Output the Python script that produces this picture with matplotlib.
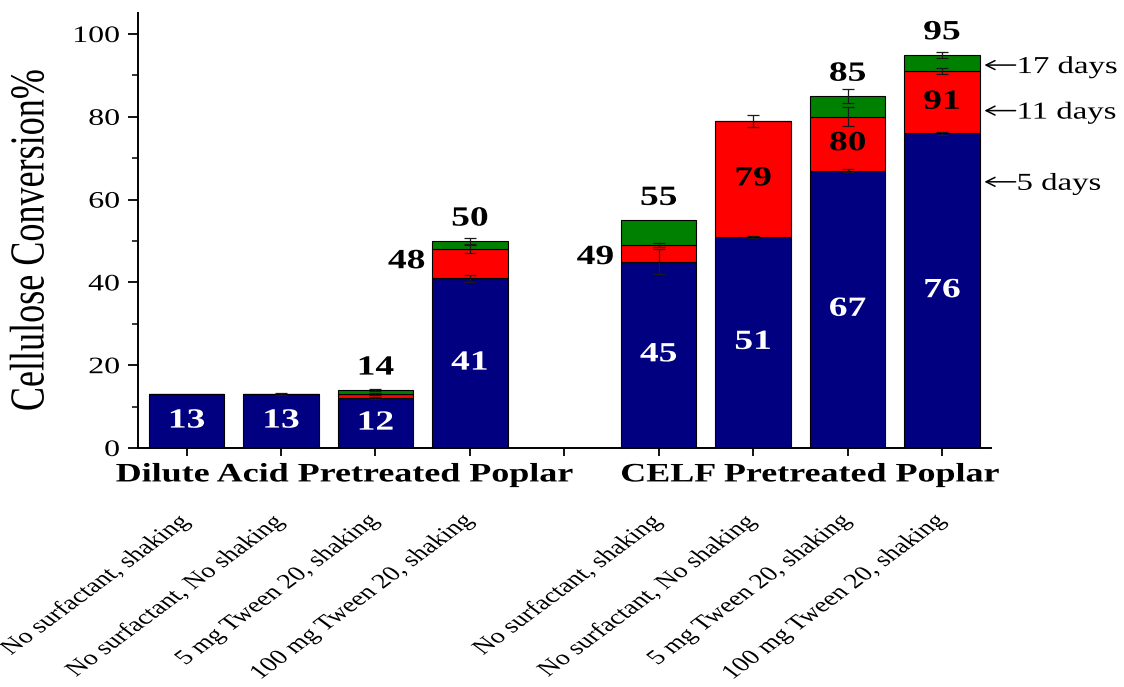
import matplotlib
matplotlib.use("Agg")
import numpy as np
import matplotlib.pyplot as plt
from matplotlib.patheffects import AbstractPathEffect
from matplotlib.transforms import Affine2D, blended_transform_factory

plt.rcParams['font.family'] = ['Liberation Serif', 'DejaVu Serif']

# ---- data -------------------------------------------------------------
conditions = ["No surfactant, shaking", "No surfactant, No shaking",
              "5 mg Tween 20, shaking", "100 mg Tween 20, shaking",
              "No surfactant, shaking", "No surfactant, No shaking",
              "5 mg Tween 20, shaking", "100 mg Tween 20, shaking"]
groups = ["Dilute Acid Pretreated Poplar", "CELF Pretreated Poplar"]
day_labels = ["5 days", "11 days", "17 days"]

# cumulative cellulose conversion (%) after each incubation time
day5 = [13, 13, 12, 41, 45, 51, 67, 76]
day11 = [13, 13, 13, 48, 49, 79, 80, 91]
day17 = [13, 13, 14, 50, 55, 79, 85, 95]
# standard deviations at each time point
err5 = [0.0, 0.3, 0.2, 0.8, 3.0, 0.2, 0.4, 0.4]
err11 = [0.0, 0.0, 0.2, 1.0, 0.4, 1.5, 2.3, 0.7]
err17 = [0.0, 0.0, 0.2, 0.8, 0.0, 0.0, 1.7, 0.7]

# ---- styling / layout -----------------------------------------------------
pos = np.array([1, 2, 3, 4, 6, 7, 8, 9], dtype=float)
red_label_mode = [None, None, None, 'left', 'left', 'in', 'in', 'in']
show_total = [False, False, True, True, True, False, True, True]
colors = ['#000080', '#ff0000', '#008000']
SX = 1.35  # horizontal widening of glyphs


class WideGlyphs(AbstractPathEffect):
    """Widen text glyphs horizontally about the text anchor point."""

    def __init__(self, text, sx):
        super().__init__()
        self._text = text
        self._sx = sx

    def draw_path(self, renderer, gc, tpath, affine, rgbFace=None):
        x0, _ = self._text.get_transform().transform(
            self._text.get_unitless_position())
        st = Affine2D().translate(-x0, 0).scale(self._sx, 1).translate(x0, 0)
        renderer.draw_path(gc, tpath, affine + st, rgbFace)


def widen(t):
    t.set_path_effects([WideGlyphs(t, SX)])
    return t


fig = plt.figure(figsize=(11.24, 6.87), dpi=100)
ax = fig.add_axes([0.1228, 0.3479, 0.7589, 0.6327])

d5 = np.array(day5, float)
d11 = np.array(day11, float)
d17 = np.array(day17, float)

w = 0.8
ax.bar(pos, d5, w, color=colors[0], edgecolor='black', linewidth=0.8, zorder=2)
ax.bar(pos, d11 - d5, w, bottom=d5, color=colors[1], edgecolor='black',
       linewidth=0.8, zorder=2)
ax.bar(pos, d17 - d11, w, bottom=d11, color=colors[2], edgecolor='black',
       linewidth=0.8, zorder=2)

for vals, errs in ((d5, err5), (d11, err11), (d17, err17)):
    e = np.array(errs)
    m = e > 0
    ax.errorbar(pos[m], vals[m], yerr=e[m], fmt='none', ecolor='#1a1a1a',
                elinewidth=0.9, capsize=4, capthick=0.9, zorder=3)

# value labels
lab_kw = dict(ha='center', va='center', fontsize=20, fontweight='bold')
for i, p in enumerate(pos):
    widen(ax.text(p, d5[i] / 2, f"{day5[i]}", color='white', **lab_kw))
    if red_label_mode[i] == 'in':
        widen(ax.text(p, (d5[i] + d11[i]) / 2, f"{day11[i]}", color='black',
                      **lab_kw))
    elif red_label_mode[i] == 'left':
        widen(ax.text(p - 0.67, d11[i] - 3.0, f"{day11[i]}", color='black',
                      **lab_kw))
    if show_total[i]:
        widen(ax.text(p, d17[i] + 5.3, f"{day17[i]}", color='black', **lab_kw))

# axes styling
ax.set_xlim(0.486, 9.52)
ax.set_ylim(0, 105)
ax.spines['top'].set_visible(False)
ax.spines['right'].set_visible(False)
for s in ('left', 'bottom'):
    ax.spines[s].set_linewidth(1.4)
ax.set_xticks(np.arange(1, 10))
ax.set_xticklabels([])
ax.set_yticks(np.arange(0, 101, 20))
ax.set_yticks(np.arange(10, 100, 20), minor=True)
ax.tick_params(axis='y', which='major', direction='out', length=7, width=1.3,
               labelsize=17, pad=6)
ax.tick_params(axis='y', which='minor', direction='out', length=4, width=1.1)
ax.tick_params(axis='x', which='major', direction='out', length=6, width=1.3)
for t in ax.get_yticklabels():
    widen(t)

yl = fig.text(32 / 1124, 1 - 240 / 687, "Cellulose Conversion%", rotation=90,
              ha='center', va='center', fontsize=26)
widen(yl)

# group and condition labels below the axis
bt = blended_transform_factory(ax.transData, ax.transAxes)
for gx, g in zip((2.67, 7.60), groups):
    widen(ax.text(gx, -0.062, g, transform=bt, ha='center', va='center',
                  fontsize=19.2, fontweight='bold'))
for p, c in zip(pos, conditions):
    widen(ax.text(p + 0.105, -0.145, c, transform=bt, ha='right', va='top',
                  rotation=45, fontsize=15))

# incubation-time pointers
for lab, yv in zip(day_labels, (64.3, 81.5, 92.5)):
    ax.annotate('', xy=(9.45, yv), xytext=(9.78, yv),
                arrowprops=dict(arrowstyle='->', color='black', lw=1.1,
                                mutation_scale=16, shrinkA=0, shrinkB=0),
                annotation_clip=False)
    widen(ax.text(9.79, yv - 0.6, lab, ha='left', va='center', fontsize=17.5))

fig.savefig('out.png', dpi=100)
